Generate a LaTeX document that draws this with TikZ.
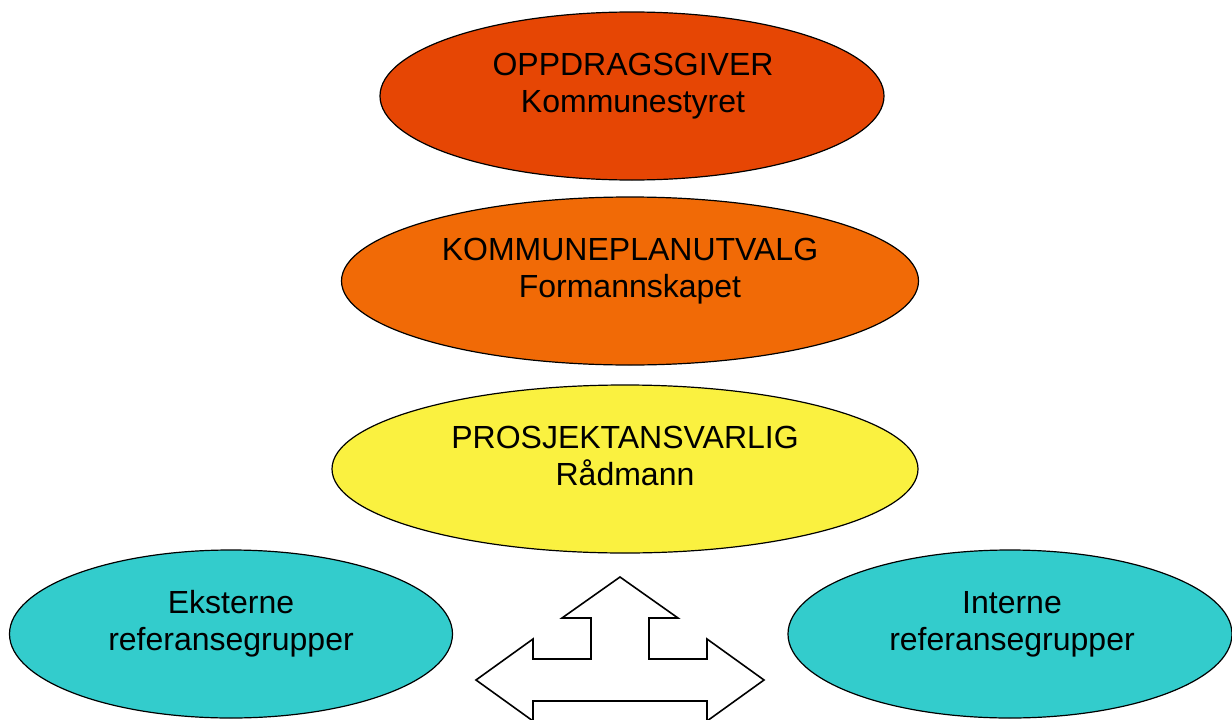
\documentclass[tikz,border=0pt]{standalone}
\usepackage{fontspec}
\setmainfont{Liberation Sans}
\usetikzlibrary{shapes.geometric}
\definecolor{cTop}{RGB}{230,70,4}
\definecolor{cMid}{RGB}{241,106,6}
\definecolor{cYel}{RGB}{250,241,64}
\definecolor{cCyan}{RGB}{51,204,204}
\tikzset{
  ell/.style={ellipse, draw=black, line width=1.2pt, inner sep=0pt},
  txt/.style={anchor=base, inner sep=0pt, font=\fontsize{32}{36}\selectfont, text=black},
  bigarrow/.style={draw=black, fill=white, line width=1.6pt, line join=miter}
}
\begin{document}
\begin{tikzpicture}[x=1pt,y=-1pt]
\useasboundingbox (0,0) rectangle (1232,720);
\fill[white] (0,0) rectangle (1232,720);
% ellipses
\node[ell, fill=cTop, minimum width=504pt, minimum height=168pt] (e1) at (632,96) {};
\node[ell, fill=cMid, minimum width=577pt, minimum height=168pt] (e2) at (630,281) {};
\node[ell, fill=cYel, minimum width=586pt, minimum height=168pt] (e3) at (625,469) {};
\node[ell, fill=cCyan, minimum width=443pt, minimum height=168pt] (e4) at (231,634) {};
\node[ell, fill=cCyan, minimum width=444pt, minimum height=168pt] (e5) at (1010,634) {};
% texts
\node[txt] (t1a) at (633,75) {OPPDRAGSGIVER};
\node[txt] (t1b) at (633,112) {Kommunestyret};
\node[txt] (t2a) at (630,260) {KOMMUNEPLANUTVALG};
\node[txt] (t2b) at (630,297) {Formannskapet};
\node[txt] (t3a) at (625,448) {PROSJEKTANSVARLIG};
\node[txt] (t3b) at (625,485) {Rådmann};
\node[txt] (t4a) at (231,613) {Eksterne};
\node[txt] (t4b) at (231,650) {referansegrupper};
\node[txt] (t5a) at (1012,613) {Interne};
\node[txt] (t5b) at (1012,650) {referansegrupper};
% three-way arrow
\draw[bigarrow] (620,577) -- (678,618) -- (649,618) -- (649,659) -- (707,659) -- (707,639)
  -- (764,680) -- (707,721) -- (707,701) -- (533,701) -- (533,721) -- (476,680)
  -- (533,639) -- (533,659) -- (591,659) -- (591,618) -- (562,618) -- cycle;
\end{tikzpicture}
\end{document}
